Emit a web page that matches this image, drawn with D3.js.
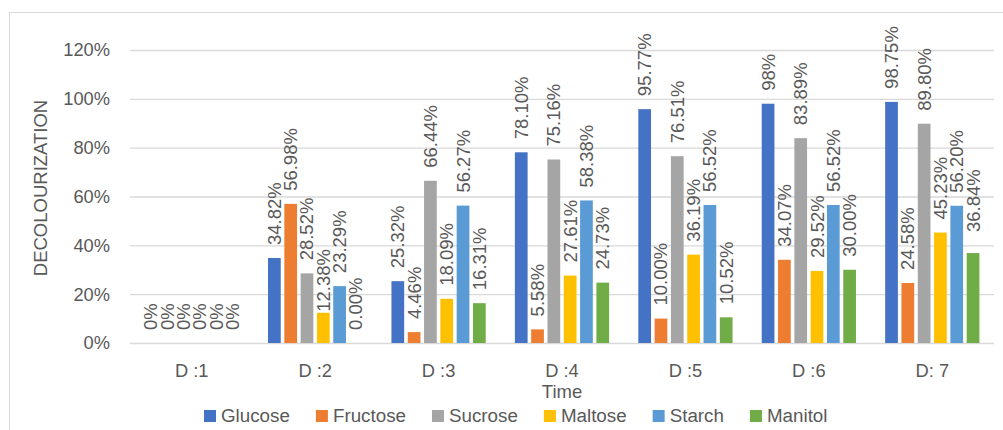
<!DOCTYPE html>
<html>
<head>
<meta charset="utf-8">
<script src="https://cdn.jsdelivr.net/npm/d3@7"></script>
<style>
  html, body { margin: 0; padding: 0; background: #fff; }
  svg { display: block; font-family: "Liberation Sans", Arial, sans-serif; }
</style>
</head>
<body>
<svg id="chart" width="1003" height="430"></svg>
<script>
// Days on the x axis
const categories = ["D :1", "D :2", "D :3", "D :4", "D :5", "D :6", "D: 7"];

// Carbon sources, drawn in this order inside each day
const seriesNames = ["Glucose", "Fructose", "Sucrose", "Maltose", "Starch", "Manitol"];

// Decolourization per day, as printed on each bar
const glucose  = ["0%", "34.82%", "25.32%", "78.10%", "95.77%", "98%", "98.75%"];
const fructose = ["0%", "56.98%", "4.46%", "5.58%", "10.00%", "34.07%", "24.58%"];
const sucrose  = ["0%", "28.52%", "66.44%", "75.16%", "76.51%", "83.89%", "89.80%"];
const maltose  = ["0%", "12.38%", "18.09%", "27.61%", "36.19%", "29.52%", "45.23%"];
const starch   = ["0%", "23.29%", "56.27%", "58.38%", "56.52%", "56.52%", "56.20%"];
const manitol  = ["0%", "0.00%", "16.31%", "24.73%", "10.52%", "30.00%", "36.84%"];

// Y axis ticks
const yTicks = [0, 0.2, 0.4, 0.6, 0.8, 1.0, 1.2];

const seriesLabels = [glucose, fructose, sucrose, maltose, starch, manitol];
const colors = ["#4472C4", "#ED7D31", "#A5A5A5", "#FFC000", "#5B9BD5", "#70AD47"];

// Hand-placed label offsets (px further from the bar; negative = closer)
const labelLift = { "Maltose|D :2": -12, "Manitol|D: 7": 8 };

const svg = d3.select("#chart");
const textColor = "#595959";

// Chart frame
svg.append("rect")
  .attr("x", 9.5).attr("y", 12.5)
  .attr("width", 1002).attr("height", 430)
  .attr("fill", "none").attr("stroke", "#d9d9d9").attr("stroke-width", 1);

const plot = { left: 130, right: 994, top: 50, bottom: 343 };

const x = d3.scaleBand().domain(categories).range([plot.left, plot.right]);
const xs = d3.scaleBand().domain(seriesNames).range([0, x.bandwidth()])
  .paddingInner(0.22).paddingOuter(0.895);
const y = d3.scaleLinear().domain([0, 1.2]).range([plot.bottom, plot.top]);

// Gridlines + y tick labels
const yAxis = d3.axisLeft(y).tickValues(yTicks).tickFormat(d3.format(".0%"))
  .tickSize(-(plot.right - plot.left)).tickPadding(20);
const gy = svg.append("g").attr("transform", `translate(${plot.left},0)`).call(yAxis);
gy.select(".domain").remove();
gy.selectAll(".tick line").attr("stroke", "#d9d9d9").attr("stroke-width", 1.3);
gy.selectAll(".tick text").attr("fill", textColor).attr("font-size", 18.3)
  .attr("font-family", "Liberation Sans, Arial, sans-serif");

// X tick labels
const xAxis = d3.axisBottom(x).tickSize(0).tickPadding(21);
const gx = svg.append("g").attr("transform", `translate(0,${plot.bottom})`).call(xAxis);
gx.select(".domain").remove();
gx.selectAll(".tick text").attr("fill", textColor).attr("font-size", 18.3)
  .attr("font-family", "Liberation Sans, Arial, sans-serif");

// Bars
const rows = [];
seriesNames.forEach((s, si) => {
  categories.forEach((c, ci) => {
    const label = seriesLabels[si][ci];
    rows.push({ series: s, cat: c, label, value: parseFloat(label) / 100, color: colors[si] });
  });
});

svg.append("g").selectAll("rect").data(rows).join("rect")
  .attr("x", d => x(d.cat) + xs(d.series))
  .attr("y", d => y(d.value))
  .attr("width", xs.bandwidth())
  .attr("height", d => y(0) - y(d.value))
  .attr("fill", d => d.color);

// Rotated value labels above each bar
svg.append("g").selectAll("text").data(rows).join("text")
  .attr("transform", d => {
    const cx = x(d.cat) + xs(d.series) + xs.bandwidth() / 2;
    const cy = y(d.value) - 13 - (labelLift[d.series + "|" + d.cat] || 0);
    return `translate(${cx},${cy}) rotate(-90)`;
  })
  .attr("text-anchor", "start")
  .attr("dominant-baseline", "central")
  .attr("font-size", 18.5)
  .attr("fill", textColor)
  .text(d => d.label);

// Axis titles
svg.append("text")
  .attr("transform", `translate(40,188) rotate(-90)`)
  .attr("text-anchor", "middle").attr("dominant-baseline", "central")
  .attr("font-size", 18.5).attr("fill", textColor)
  .text("DECOLOURIZATION");

svg.append("text")
  .attr("x", (plot.left + plot.right) / 2).attr("y", 398)
  .attr("text-anchor", "middle")
  .attr("font-size", 18.5).attr("fill", textColor)
  .text("Time");

// Legend
const legend = svg.append("g");
const items = legend.selectAll("g").data(seriesNames).join("g");
items.append("rect").attr("width", 12).attr("height", 12).attr("y", 410)
  .attr("fill", (d, i) => colors[i]);
items.append("text").attr("x", 17).attr("y", 422)
  .attr("font-size", 18.8).attr("fill", textColor).text(d => d);
let offset = 204;
const positions = [];
items.each(function () {
  const w = 17 + this.querySelector("text").getComputedTextLength();
  positions.push(offset);
  offset += w + 26;
});
items.attr("transform", (d, i) => `translate(${positions[i]},0)`);
</script>
</body>
</html>
